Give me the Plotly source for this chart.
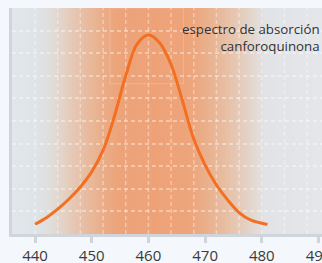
import plotly.graph_objects as go

# Data
wavelength = [440, 442, 444, 446, 448, 450, 452, 454, 456, 458, 460,
              462, 464, 466, 468, 470, 472, 474, 476, 478, 481]
absorbance = [0.43, 0.72, 1.1, 1.55, 2.08, 2.75, 3.7, 5.2, 7.0, 8.4, 8.8,
              8.45, 7.5, 5.9, 4.2, 3.05, 2.17, 1.5, 0.95, 0.62, 0.42]
tick_vals = [440, 450, 460, 470, 480, 490]
label_lines = ["espectro de absorción", "canforoquinona"]

X0, X1 = 435.94, 490.62
Y0, Y1 = 0, 10

# background gradient stops (wavelength, rgb)
stops = [
    (435.9, (227, 230, 234)),
    (440.0, (222, 228, 232)),
    (442.6, (224, 222, 220)),
    (444.8, (227, 211, 200)),
    (448.3, (231, 192, 166)),
    (451.8, (234, 174, 138)),
    (454.6, (237, 164, 122)),
    (462.0, (238, 162, 120)),
    (467.3, (237, 165, 124)),
    (469.1, (235, 171, 133)),
    (472.6, (232, 186, 156)),
    (476.2, (229, 203, 186)),
    (479.2, (226, 220, 215)),
    (480.6, (226, 227, 230)),
    (490.7, (228, 230, 234)),
]


def color_at(x):
    for (xa, ca), (xb, cb) in zip(stops[:-1], stops[1:]):
        if xa <= x <= xb:
            t = (x - xa) / (xb - xa)
            c = [round(a + (b - a) * t) for a, b in zip(ca, cb)]
            return "rgb(%d,%d,%d)" % tuple(c)
    return "rgb(%d,%d,%d)" % stops[-1][1]


shapes = []
step = 0.25
x = X0
while x < X1:
    # each band runs to the right edge; later bands cover earlier ones -> no seams
    shapes.append(dict(type="rect", xref="x", yref="y", x0=x, x1=X1,
                       y0=Y0, y1=Y1, fillcolor=color_at(x + step / 2),
                       line=dict(width=0), layer="below"))
    x += step

# vertical dashed grid every 4 nm
g = 440
while g < X1:
    shapes.append(dict(type="line", xref="x", yref="y", x0=g, x1=g, y0=Y0, y1=Y1,
                       line=dict(color="rgba(255,255,255,0.38)", width=1.5, dash="4px,3px"),
                       layer="between"))
    g += 4

# faint inner box
shapes.append(dict(type="rect", xref="x", yref="y", x0=453.2, x1=466.2, y0=6.65, y1=Y1,
                   line=dict(color="rgba(255,255,255,0.18)", width=1), layer="between"))

fig = go.Figure()
fig.add_trace(go.Scatter(x=wavelength, y=absorbance, mode="lines",
                         line=dict(color="#f36f21", width=3, shape="spline", smoothing=1.0),
                         hoverinfo="skip", showlegend=False))

fig.add_annotation(x=1.0, y=1.0, xref="paper", yref="paper", xanchor="right", yanchor="top",
                   xshift=0, yshift=-10,
                   text="<br>".join(label_lines), showarrow=False, align="right",
                   font=dict(family="Open Sans", size=13.3, color="#333333"))

fig.update_layout(
    width=322, height=263,
    margin=dict(l=12, r=0, t=8, b=29, autoexpand=False),
    paper_bgcolor="#f4f7fb",
    plot_bgcolor="#e4e6ea",
    shapes=shapes,
    showlegend=False,
    font=dict(family="Open Sans", color="#3a3a3a"),
)
fig.update_xaxes(range=[X0, X1], tickvals=tick_vals, ticks="outside", ticklen=6, tickwidth=3,
                 tickcolor="#cfd5db", showline=True, linecolor="#cfd5db", linewidth=3,
                 showgrid=False, zeroline=False,
                 ticklabeloverflow="allow", automargin=False,
                 tickfont=dict(size=15, color="#3a3a3a"))
fig.update_yaxes(range=[Y0, Y1], dtick=1, showticklabels=False, ticks="", showline=True,
                 linecolor="#cfd5db", linewidth=3, showgrid=True, automargin=False,
                 gridcolor="rgba(255,255,255,0.38)", gridwidth=1.5, griddash="4px,3px",
                 zeroline=False)

fig.write_html("out.html", config={"displayModeBar": False},
               post_script="document.body.style.margin='0';document.body.style.overflow='hidden';")
